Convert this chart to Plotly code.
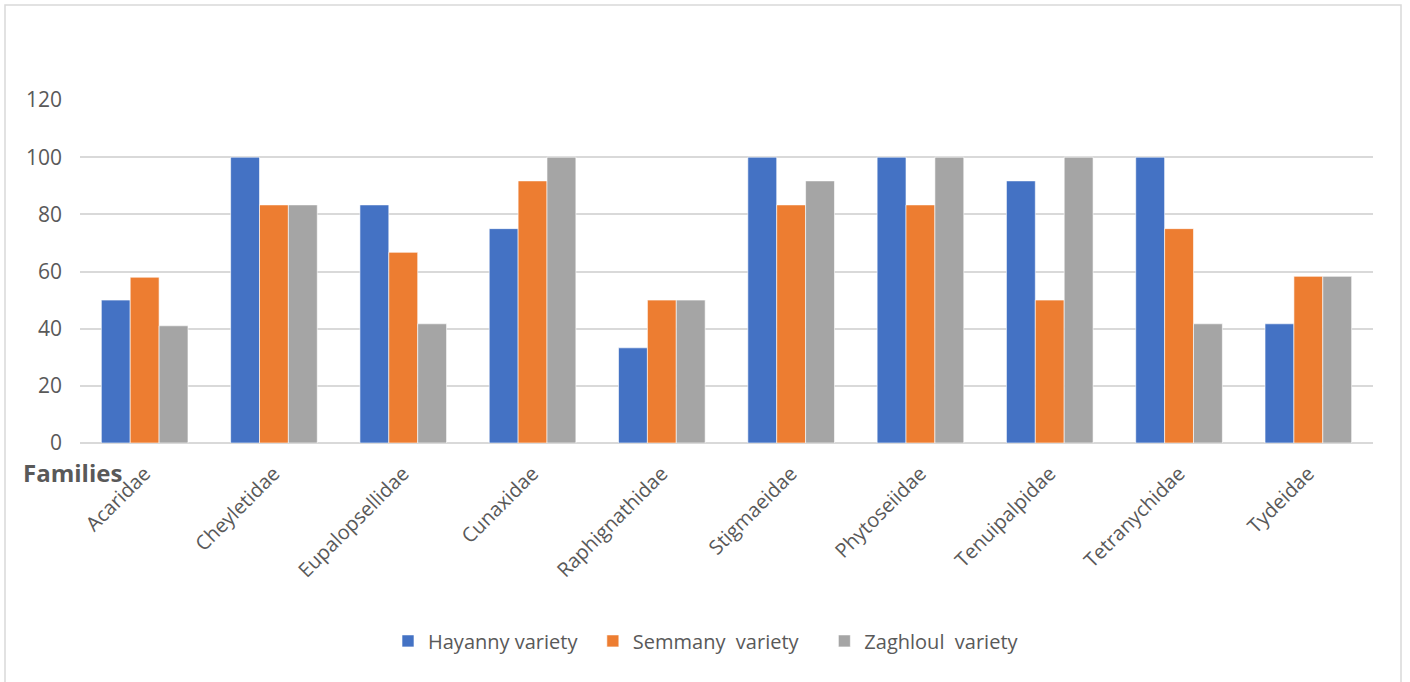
import plotly.graph_objects as go

families = ["Acaridae", "Cheyletidae", "Eupalopsellidae", "Cunaxidae", "Raphignathidae",
            "Stigmaeidae", "Phytoseiidae", "Tenuipalpidae", "Tetranychidae", "Tydeidae"]
hayanny = [50, 100, 83.3, 75, 33.3, 100, 100, 91.7, 100, 41.7]
semmany = [58, 83.3, 66.7, 91.7, 50, 83.3, 83.3, 50, 75, 58.3]
zaghloul = [41, 83.3, 41.7, 100, 50, 91.7, 100, 100, 41.7, 58.3]
y_ticks = [0, 20, 40, 60, 80, 100, 120]

NB = "\u00a0"
series = [
    ("Hayanny variety" + NB * 2, hayanny, "#4472C4"),
    ("Semmany  variety" + NB * 4, semmany, "#ED7D31"),
    ("Zaghloul  variety", zaghloul, "#A5A5A5"),
]

FONT = "Open Sans, DejaVu Sans, sans-serif"
TEXT = "#595959"

fig = go.Figure()
for name, vals, color in series:
    fig.add_trace(go.Bar(
        x=families, y=vals, name=name,
        marker=dict(color=color, line=dict(color="white", width=0.6)),
    ))

fig.update_layout(
    width=1410, height=682,
    margin=dict(l=80, r=37, t=100, b=239),
    paper_bgcolor="white", plot_bgcolor="white",
    barmode="group", bargap=0.33, bargroupgap=0,
    font=dict(family=FONT, color=TEXT),
    showlegend=True,
    legend=dict(orientation="h", x=(388 - 80) / 1293, xanchor="left", y=-0.577, yanchor="middle",
                font=dict(size=20, color=TEXT), itemwidth=30, traceorder="normal"),
    xaxis=dict(tickangle=-45, tickfont=dict(size=20, color=TEXT), showgrid=False,
               showline=False, ticks="outside", ticklen=10, tickcolor="rgba(0,0,0,0)"),
    yaxis=dict(range=[0, 120], tickvals=y_ticks, tickfont=dict(size=21, color=TEXT),
               showgrid=True, gridcolor="#D9D9D9", gridwidth=1.5,
               zeroline=True, zerolinecolor="#D9D9D9", zerolinewidth=1.5,
               showline=False, ticks="", ticklabelstandoff=17),
)

fig.add_annotation(text="<b>Families</b>", xref="paper", yref="paper",
                   x=(21 - 80) / 1293, y=-0.087, xanchor="left", yanchor="middle",
                   showarrow=False, font=dict(size=24, color=TEXT, family=FONT))

# outer chart frame
fig.add_shape(type="rect", xref="paper", yref="paper",
              x0=(5 - 80) / 1293, x1=(1401 - 80) / 1293,
              y0=(443 - 690) / 343, y1=(443 - 5) / 343,
              line=dict(color="#D9D9D9", width=1.5), fillcolor="rgba(0,0,0,0)", layer="below")

fig.write_html("out.html")
